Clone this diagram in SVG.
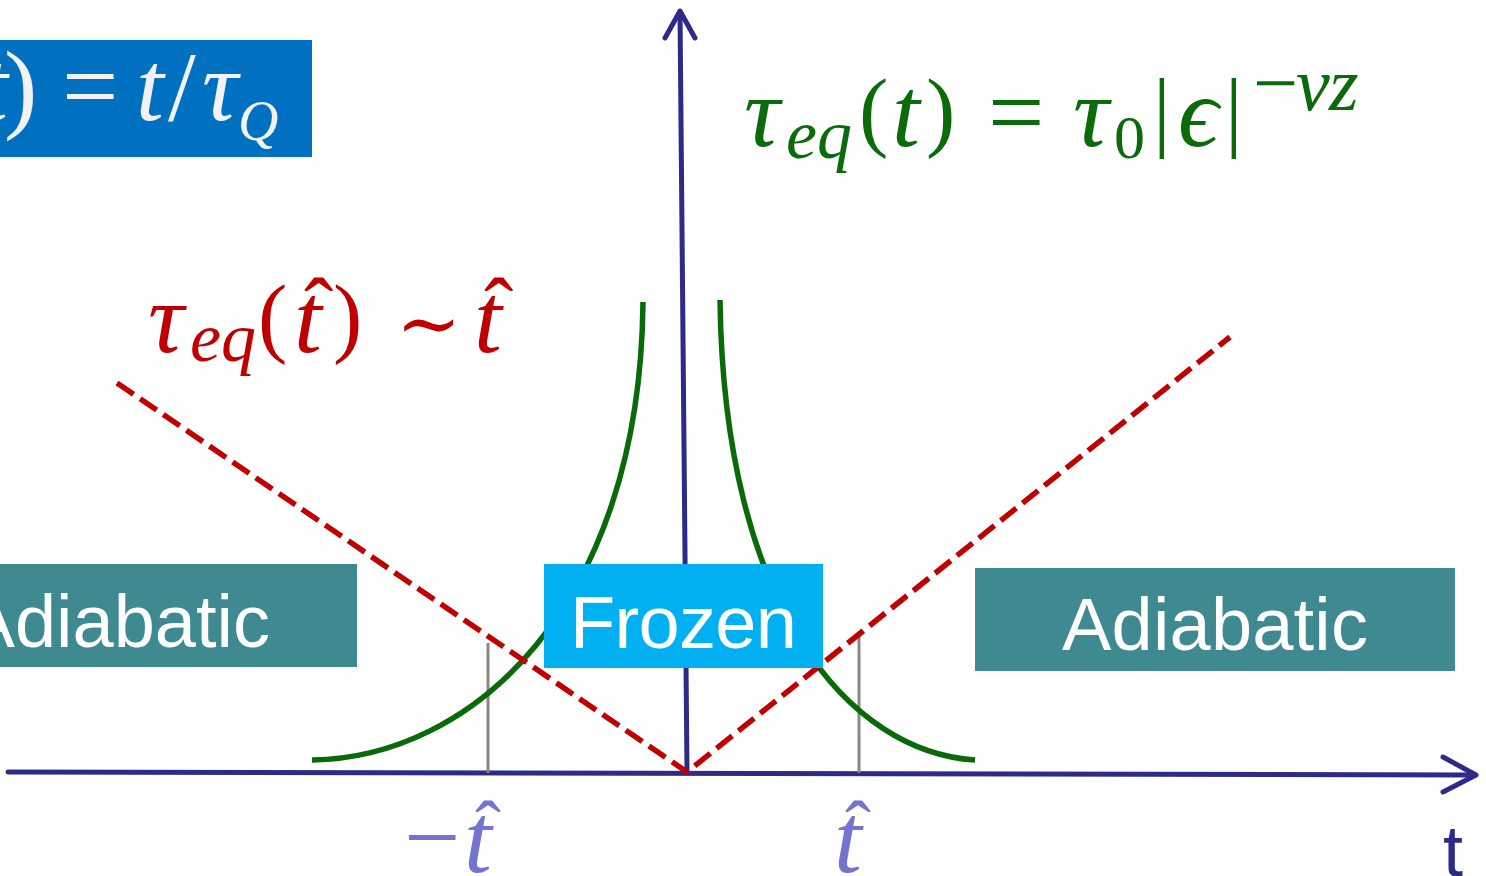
<svg xmlns="http://www.w3.org/2000/svg" width="1486" height="876" viewBox="0 0 1486 876">
<style>
.box-t{font-family:"Liberation Sans",Arial,sans-serif;font-size:74px;fill:#ffffff}
.m{font-family:"Liberation Serif","DejaVu Serif",serif;font-style:italic;font-size:100px}
.u{font-style:normal}
.p{font-style:normal;font-size:88px}
.s{font-size:70px}
.axis{stroke:#2E2A88;stroke-width:5;fill:none;stroke-linecap:round;stroke-linejoin:round}
.green{stroke:#0A6A0A;stroke-width:5.5;fill:none}
.red{stroke:#C00000;stroke-width:5.5;fill:none;stroke-dasharray:20 8}
.tick{stroke:#888888;stroke-width:3}
</style>
<rect width="1486" height="876" fill="#ffffff"/>

<g id="eps-box">
<rect x="0" y="40" width="312" height="117" fill="#0070C0"/>
<text class="m" fill="#F2F2F2" font-size="84"><tspan x="-20" y="120">t</tspan><tspan class="u" x="4" y="120">)</tspan><tspan class="u" x="62" y="120">=</tspan><tspan x="136" y="120">t</tspan><tspan class="u" x="168" y="120">/</tspan><tspan x="202" y="120">τ</tspan><tspan font-size="56" x="238" y="140">Q</tspan></text>
</g>

<g id="tau-eq-formula">
<text class="m" fill="#0B6B0B"><tspan x="744" y="146">τ</tspan><tspan class="s" x="786" y="158">eq</tspan><tspan class="p" x="859" y="140">(</tspan><tspan x="892" y="146">t</tspan><tspan class="p" x="926" y="140">)</tspan><tspan class="u" x="988" y="146">=</tspan><tspan x="1073" y="146">τ</tspan><tspan class="u" font-size="62" x="1114" y="158">0</tspan><tspan class="p" x="1153" y="140">|</tspan><tspan x="1178" y="146">ϵ</tspan><tspan class="p" x="1225" y="140">|</tspan><tspan class="u" font-size="80" x="1253" y="110">−</tspan><tspan font-size="76" x="1296" y="110">ν</tspan><tspan font-size="76" x="1329" y="110">z</tspan></text>
</g>

<g id="tau-hat-formula">
<text class="m" fill="#C00000"><tspan x="148" y="352">τ</tspan><tspan class="s" x="190" y="361">eq</tspan><tspan class="p" x="258" y="346">(</tspan><tspan x="294" y="352">t</tspan><tspan class="p" x="304" y="340">ˆ</tspan><tspan class="p" x="333" y="346">)</tspan><tspan class="u" font-size="78" x="396" y="350">∼</tspan><tspan x="474" y="352">t</tspan><tspan class="p" x="484" y="340">ˆ</tspan></text>
</g>

<g id="connectors">
<line class="axis" x1="8" y1="772" x2="1475" y2="775"/>
<polyline class="axis" points="1443,757 1476,775 1443,792"/>
<line class="axis" x1="687" y1="772" x2="680" y2="12"/>
<polyline class="axis" points="665,38 680,11 695,38"/>
<line class="tick" x1="488" y1="643" x2="488" y2="773"/>
<line class="tick" x1="859" y1="636" x2="859" y2="773"/>
<path class="green" d="M312,760 C470,758 640,610 643,302"/>
<path class="green" d="M720,300 C724,610 850,752 975,760"/>
<polyline class="red" points="117,383 687,772 1230,337"/>
</g>

<g id="adiabatic-left">
<rect x="0" y="564" width="357" height="103" fill="#3E8A90"/>
<text class="box-t" x="270" y="647" text-anchor="end">Adiabatic</text>
</g>

<g id="frozen">
<rect x="544" y="564" width="279" height="104" fill="#00B0F0"/>
<text class="box-t" x="570" y="648" textLength="227">Frozen</text>
</g>

<g id="adiabatic-right">
<rect x="975" y="568" width="480" height="103" fill="#3E8A90"/>
<text class="box-t" x="1062" y="650" textLength="306">Adiabatic</text>
</g>

<g id="labels">
<text class="m" fill="#7474D0" font-size="88"><tspan class="u" font-size="100" x="404" y="871">−</tspan><tspan x="464" y="872">t</tspan><tspan class="u" font-size="78" x="475" y="855">ˆ</tspan><tspan x="834" y="872">t</tspan><tspan class="u" font-size="78" x="845" y="855">ˆ</tspan></text>
<text x="1443" y="876" font-family="Liberation Sans,Arial,sans-serif" font-size="72" fill="#2E2A88">t</text>
</g>
</svg>
